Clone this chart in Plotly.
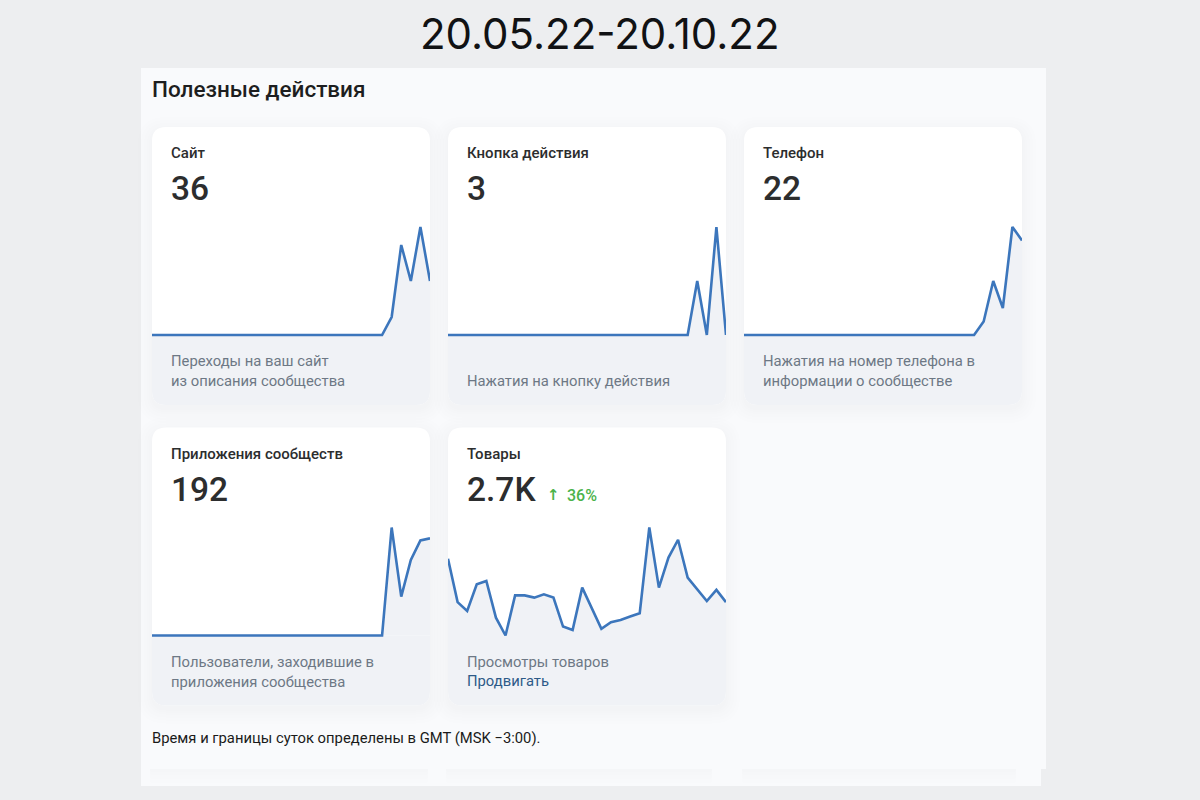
import plotly.graph_objects as go

# Значения по дням (30 точек на карточку)
days = list(range(30))
site_clicks = [0, 0, 0, 0, 0, 0, 0, 0, 0, 0, 0, 0, 0, 0, 0, 0, 0, 0, 0, 0, 0, 0, 0, 0, 0, 2, 10, 6, 12, 6]
action_button = [0, 0, 0, 0, 0, 0, 0, 0, 0, 0, 0, 0, 0, 0, 0, 0, 0, 0, 0, 0, 0, 0, 0, 0, 0, 0, 1, 0, 2, 0]
phone_clicks = [0, 0, 0, 0, 0, 0, 0, 0, 0, 0, 0, 0, 0, 0, 0, 0, 0, 0, 0, 0, 0, 0, 0, 0, 0, 1, 4, 2, 8, 7]
app_users = [0, 0, 0, 0, 0, 0, 0, 0, 0, 0, 0, 0, 0, 0, 0, 0, 0, 0, 0, 0, 0, 0, 0, 0, 0, 50, 18, 35, 44, 45]
goods_views = [124, 85, 77, 101, 104, 71, 55, 91, 91, 89, 92, 89, 63, 60, 98, 80, 61, 67, 69, 72, 75, 152, 98, 125, 141, 107, 97, 86, 96, 85]

card_titles = ['Сайт', 'Кнопка действия', 'Телефон', 'Приложения сообществ', 'Товары']
card_totals = ['36', '3', '22', '192', '2.7K']
card_notes = [
    ['Переходы на ваш сайт', 'из описания сообщества'],
    ['', 'Нажатия на кнопку действия'],
    ['Нажатия на номер телефона в', 'информации о сообществе'],
    ['Пользователи, заходившие в', 'приложения сообщества'],
    ['Просмотры товаров', ''],
]
card_series = [site_clicks, action_button, phone_clicks, app_users, goods_views]

page_title = '20.05.22-20.10.22'
section_title = 'Полезные действия'
footer_text = 'Время и границы суток определены в GMT (MSK −3:00).'
promote_text = 'Продвигать'
goods_arrow = '↑'
goods_change = '36%'

W, H = 1200, 800
CARD_W, CARD_H = 278, 278
CARD_POS = [(152, 127), (448, 127), (744, 127), (152, 427.5), (448, 427.5)]
LINE_COLOR = '#3c76bc'
GREY = '#f0f2f6'


def px(x):
    return x / W


def py(y):
    return 1 - y / H


def round_path(x0, y0, x1, y1, top=0, bottom=0):
    # путь в долях paper, углы скругляются отдельно сверху и снизу
    pts = [
        f'M {px(x0)} {py(y0 + top)}',
        f'Q {px(x0)} {py(y0)} {px(x0 + top)} {py(y0)}',
        f'L {px(x1 - top)} {py(y0)}',
        f'Q {px(x1)} {py(y0)} {px(x1)} {py(y0 + top)}',
        f'L {px(x1)} {py(y1 - bottom)}',
        f'Q {px(x1)} {py(y1)} {px(x1 - bottom)} {py(y1)}',
        f'L {px(x0 + bottom)} {py(y1)}',
        f'Q {px(x0)} {py(y1)} {px(x0)} {py(y1 - bottom)}',
        'Z',
    ]
    return ' '.join(pts)


def add_path(path, color):
    fig.add_shape(type='path', path=path, xref='paper', yref='paper',
                  fillcolor=color, line_width=0, layer='below')


def add_text(x, y, text, size, color, weight=400, family='Roboto', xanchor='left'):
    fig.add_annotation(x=px(x), y=py(y), xref='paper', yref='paper', text=text,
                       showarrow=False, xanchor=xanchor, yanchor='middle',
                       font=dict(size=size, color=color, family=family, weight=weight))


fig = go.Figure()

# Светлая панель скриншота
add_path(round_path(141, 68, 1046, 769), '#f9fafc')
add_path(round_path(141, 769, 1041, 786), '#f9fafc')

# Тень следующего ряда карточек снизу
for x0, x1 in [(150, 428), (446, 712), (742, 1016)]:
    for grow, alpha in [(3, 0.008), (6, 0.008), (10, 0.008), (14, 0.006)]:
        add_path(round_path(x0, 769, x1, 769 + grow, 0, 2), f'rgba(70,75,95,{alpha})')

for i, (x0, y0) in enumerate(CARD_POS):
    x1, y1 = x0 + CARD_W, y0 + CARD_H
    base = y0 + 208
    peak = y0 + 100

    # мягкая тень карточки
    for grow, alpha in [(14, 0.006), (11, 0.006), (8, 0.007), (5, 0.007), (3, 0.008), (1, 0.008)]:
        add_path(round_path(x0 - grow, y0 - grow + 4, x1 + grow, y1 + grow + 4, 14 + grow, 14 + grow),
                 f'rgba(70,75,95,{alpha})')

    add_path(round_path(x0, y0, x1, y1, 14, 14), 'white')
    add_path(round_path(x0, base, x1, y1, 0, 14), GREY)

    values = card_series[i]
    low, high = min(values), max(values)
    unit = (high - low) / (base - peak)
    suffix = '' if i == 0 else str(i + 1)
    fig.add_trace(go.Scatter(
        x=days, y=values, mode='lines', xaxis='x' + suffix, yaxis='y' + suffix,
        line=dict(color=LINE_COLOR, width=2.6), fill='tozeroy', fillcolor=GREY,
        hoverinfo='skip', showlegend=False,
    ))
    fig.update_layout({
        'xaxis' + suffix: dict(domain=[px(x0), px(x1)], range=[0, 29], visible=False,
                               fixedrange=True, anchor='y' + suffix),
        'yaxis' + suffix: dict(domain=[py(base + 3), py(peak - 3)],
                               range=[low - 3 * unit, high + 3 * unit], visible=False,
                               fixedrange=True, anchor='x' + suffix),
    })

    # у подписей plotly 2px внутреннего отступа, поэтому x0 + 17
    add_text(x0 + 17, y0 + 26, card_titles[i], 15, '#2c2d2e', weight=500)
    add_text(x0 + 17, y0 + 62, card_totals[i], 33.5, '#2c2d2e', weight=500)
    if card_notes[i][0]:
        add_text(x0 + 17, y0 + 234, card_notes[i][0], 14.8, '#6d7885')
    if card_notes[i][1]:
        add_text(x0 + 17, y0 + 254.5, card_notes[i][1], 14.8, '#6d7885')

add_text(545, 495, goods_arrow, 15, '#4bb34b', weight=700, family='DejaVu Sans')
add_text(564.5, 495, goods_change, 16, '#4bb34b', weight=500)
add_text(465, 681, promote_text, 14.8, '#2d5a88')

add_text(600, 33, page_title, 42, '#111214', family='Inter', xanchor='center')
add_text(150, 89, section_title, 22.5, '#1d1e20', weight=500)
add_text(150, 737.5, footer_text, 14.8, '#1a1a1a')

fig.update_layout(
    width=W, height=H, margin=dict(l=0, r=0, t=0, b=0),
    paper_bgcolor='#edeef0', plot_bgcolor='rgba(0,0,0,0)',
)

fig.write_html('out.html', config={'displayModeBar': False},
               post_script="document.body.style.margin='0';")
